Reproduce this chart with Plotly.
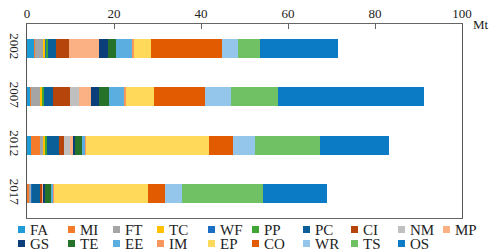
import plotly.graph_objects as go

years = ["2002", "2007", "2012", "2017"]
sectors = ["FA", "MI", "FT", "TC", "WF", "PP", "PC", "CI", "NM", "MP",
           "GS", "TE", "EE", "IM", "EP", "CO", "WR", "TS", "OS"]
colors = ["#1f9bd7", "#f47b2a", "#a5a5a5", "#ffc000", "#1a6ec4", "#3fa535",
          "#0b5f99", "#b5450b", "#c0c0c0", "#fbb183", "#0c3f7a", "#27722a",
          "#5aaee0", "#f8975d", "#ffd95a", "#e25b00", "#93c6ea", "#70c163",
          "#0a7bc4"]

v2002 = [1.77, 0.05, 1.9, 0.6, 0.15, 0.35, 1.9, 2.95, 0.05, 6.9,
         2.07, 1.7, 3.9, 0.3, 3.83, 16.3, 3.74, 5.05, 18.0]
v2007 = [0.85, 0.05, 2.2, 0.4, 0.1, 0.3, 2.15, 3.9, 1.9, 2.9,
         1.84, 2.2, 3.6, 0.46, 6.35, 11.7, 6.0, 10.9, 33.4]
v2012 = [0.85, 2.2, 0.85, 0.3, 0.15, 0.2, 2.7, 1.15, 1.38, 0.77,
         0.54, 1.53, 0.77, 0.2, 28.3, 5.36, 5.1, 15.0, 15.8]
v2017 = [0.2, 0.3, 0.55, 0.0, 0.05, 0.0, 2.0, 0.38, 0.1, 0.3,
         0.3, 1.45, 0.55, 0.1, 21.6, 3.83, 3.83, 18.8, 14.6]

x_ticks = [0, 20, 40, 60, 80, 100]
unit = "Mt"

series = [v2002, v2007, v2012, v2017]
FONT = "Liberation Serif, Times New Roman, serif"

fig = go.Figure()
for i, name in enumerate(sectors):
    fig.add_trace(go.Bar(
        y=years, x=[s[i] for s in series], name=name, orientation="h",
        marker=dict(color=colors[i], line=dict(width=0)),
        showlegend=False,
    ))

# plot area geometry (pixels) for the custom legend
L, T, W, H = 27, 24, 435, 194
def px2paper(px, py):
    return (px - L) / W, 1 - (py - T) / H

col_x = [18, 68, 113, 157, 208, 252, 303, 351, 398, 443]
row_y = [229.5, 243.5]
shapes, annots = [], []
for i, name in enumerate(sectors):
    r, c = divmod(i, 10)
    x0, yc = col_x[c], row_y[r]
    ax0, ay0 = px2paper(x0, yc - 3.5)
    ax1, ay1 = px2paper(x0 + 7, yc + 3.5)
    shapes.append(dict(type="rect", xref="paper", yref="paper",
                       x0=ax0, x1=ax1, y0=ay1, y1=ay0,
                       fillcolor=colors[i], line=dict(width=0)))
    tx, ty = px2paper(x0 + 10, yc)
    annots.append(dict(text=name, xref="paper", yref="paper", x=tx, y=ty,
                       xanchor="left", yanchor="middle", showarrow=False,
                       font=dict(family=FONT, size=15, color="#222")))

mx, my = px2paper(471, 25)
annots.append(dict(text=unit, xref="paper", yref="paper", x=mx, y=my,
                   xanchor="left", yanchor="middle", showarrow=False,
                   font=dict(family=FONT, size=13, color="#222")))

fig.update_layout(
    template="none",
    barmode="stack", bargap=0.6,
    width=491, height=251,
    margin=dict(l=L, r=491 - L - W, t=T, b=251 - T - H, pad=0, autoexpand=False),
    paper_bgcolor="white", plot_bgcolor="white",
    font=dict(family=FONT, size=13, color="#222"),
    shapes=shapes, annotations=annots,
    xaxis=dict(side="top", range=[0, 100], tickvals=x_ticks,
               ticks="inside", ticklen=5, tickcolor="#666",
               showline=True, linecolor="#666", linewidth=1, mirror=True,
               showgrid=False, zeroline=False, automargin=False,
               tickfont=dict(family=FONT, size=13, color="#222")),
    yaxis=dict(type="category", autorange="reversed", tickangle=90,
               showline=True, linecolor="#555", linewidth=1, mirror=True,
               ticks="", showgrid=False, zeroline=False, automargin=False,
               tickfont=dict(family=FONT, size=13, color="#222")),
)

fig.write_html("out.html", config={"displayModeBar": False},
               post_script="document.body.style.margin='0';document.body.style.overflow='hidden';")
